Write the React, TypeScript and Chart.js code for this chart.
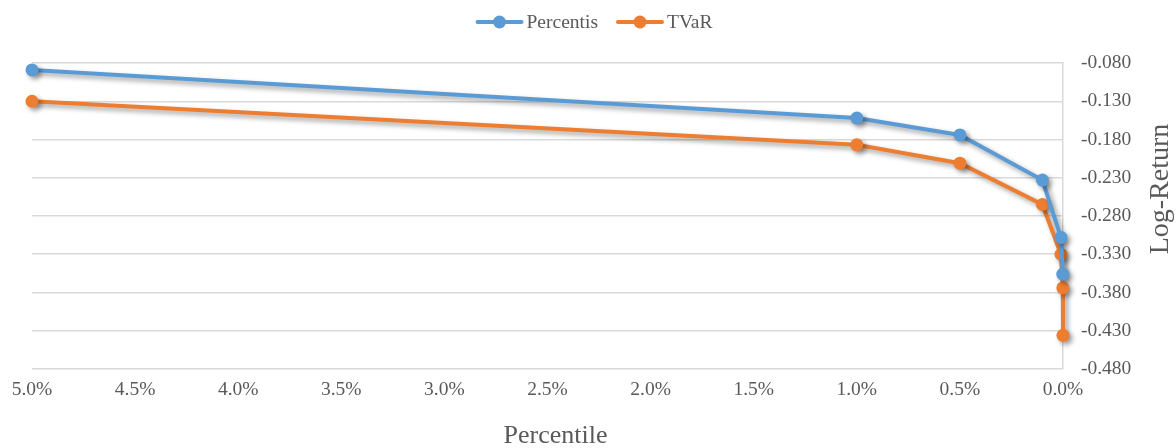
import React, { useEffect, useRef } from "react";
import { Chart, registerables } from "chart.js";

Chart.register(...registerables);

// Tail percentile (in %) for each point
const percentisX = [5, 1, 0.5, 0.1, 0.01, 0.001];
const percentisY = [-0.089, -0.152, -0.174, -0.233, -0.308, -0.356];
const tvarX = [5, 1, 0.5, 0.1, 0.01, 0.001, 0.0001];
const tvarY = [-0.130, -0.187, -0.211, -0.265, -0.330, -0.374, -0.436];

const seriesNames = ["Percentis", "TVaR"];
const seriesColors = ["#5B9BD5", "#ED7D31"];
const xTitle = "Percentile";
const yTitle = "Log-Return";

const xMin = 0;
const xMax = 5;
const xStep = 0.5;
const yMin = -0.48;
const yMax = -0.08;
const yStep = 0.05;

const FONT = "'Liberation Serif', 'Times New Roman', serif";
const TEXT = "#595959";
const GRID = "#D9D9D9";

// Soft drop shadow behind the series lines and markers
const shadowPlugin = {
  id: "seriesShadow",
  beforeDatasetsDraw(chart: any) {
    const ctx = chart.ctx;
    ctx.save();
    ctx.shadowColor = "rgba(0,0,0,0.38)";
    ctx.shadowBlur = 5;
    ctx.shadowOffsetX = 3;
    ctx.shadowOffsetY = 3;
  },
  afterDatasetsDraw(chart: any) {
    chart.ctx.restore();
  },
};

// Legend with line+marker swatches, and the two axis titles
const decorPlugin = {
  id: "decor",
  afterDraw(chart: any) {
    const ctx = chart.ctx;
    const area = chart.chartArea;
    ctx.save();

    // legend
    ctx.font = `19.5px ${FONT}`;
    ctx.textBaseline = "middle";
    const swatch = 44;
    const gapText = 5;
    const gapItem = 20;
    const widths = seriesNames.map((n) => swatch + gapText + ctx.measureText(n).width);
    const total = widths.reduce((a, b) => a + b, 0) + gapItem * (widths.length - 1);
    let x = chart.width / 2 + 7 - total / 2;
    const ly = 22;
    seriesNames.forEach((name, i) => {
      ctx.strokeStyle = seriesColors[i];
      ctx.fillStyle = seriesColors[i];
      ctx.lineWidth = 4;
      ctx.lineCap = "round";
      ctx.beginPath();
      ctx.moveTo(x, ly);
      ctx.lineTo(x + swatch, ly);
      ctx.stroke();
      ctx.beginPath();
      ctx.arc(x + swatch / 2, ly, 6.5, 0, Math.PI * 2);
      ctx.fill();
      ctx.fillStyle = TEXT;
      ctx.textAlign = "left";
      ctx.fillText(name, x + swatch + gapText, ly + 1);
      x += widths[i] + gapItem;
    });

    // x axis title
    ctx.font = `26px ${FONT}`;
    ctx.fillStyle = TEXT;
    ctx.textAlign = "center";
    ctx.textBaseline = "middle";
    ctx.fillText(xTitle, (area.left + area.right) / 2 + 8, 436);

    // y axis title, reading bottom to top
    ctx.font = `28px ${FONT}`;
    ctx.translate(1161, 189);
    ctx.rotate(-Math.PI / 2);
    ctx.fillText(yTitle, 0, 0);
    ctx.restore();
  },
};

export default function App() {
  const ref = useRef<HTMLCanvasElement | null>(null);

  useEffect(() => {
    if (!ref.current) return;
    const toPts = (xs: number[], ys: number[]) => xs.map((x, i) => ({ x, y: ys[i] }));
    const series = [toPts(percentisX, percentisY), toPts(tvarX, tvarY)];
    const chart = new Chart(ref.current, {
      type: "line",
      data: {
        datasets: series.map((data, i) => ({
          label: seriesNames[i],
          data,
          borderColor: seriesColors[i],
          backgroundColor: seriesColors[i],
          borderWidth: 4,
          pointRadius: 6.5,
          pointBorderWidth: 0,
          tension: 0,
          clip: false,
        })),
      },
      options: {
        animation: false,
        responsive: false,
        maintainAspectRatio: false,
        layout: { padding: { left: 32, right: 0, top: 63, bottom: 0 } },
        plugins: {
          legend: { display: false },
          tooltip: { enabled: false },
        },
        scales: {
          x: {
            type: "linear",
            reverse: true,
            min: xMin,
            max: xMax,
            afterFit: (s: any) => {
              s.height = 79;
            },
            ticks: {
              stepSize: xStep,
              font: { family: FONT, size: 19.5 },
              color: TEXT,
              padding: 9,
              maxRotation: 0,
              callback: (v: any) => Number(v).toFixed(1) + "%",
            },
            grid: { display: false, drawTicks: false },
            border: { display: false },
          },
          y: {
            position: "right",
            min: yMin,
            max: yMax,
            afterFit: (s: any) => {
              s.width = 113;
            },
            ticks: {
              stepSize: yStep,
              font: { family: FONT, size: 19.5 },
              color: TEXT,
              padding: 18,
              callback: (v: any) => Number(v).toFixed(3),
            },
            grid: { color: GRID, lineWidth: 1.5, drawTicks: false },
            border: { display: true, color: GRID, width: 1.5 },
          },
        },
      },
      plugins: [shadowPlugin, decorPlugin],
    });
    return () => chart.destroy();
  }, []);

  return (
    <div style={{ position: "fixed", left: 0, top: 0, width: 1176, height: 448, background: "#fff" }}>
      <canvas ref={ref} width={1176} height={448} style={{ width: 1176, height: 448 }} />
    </div>
  );
}
